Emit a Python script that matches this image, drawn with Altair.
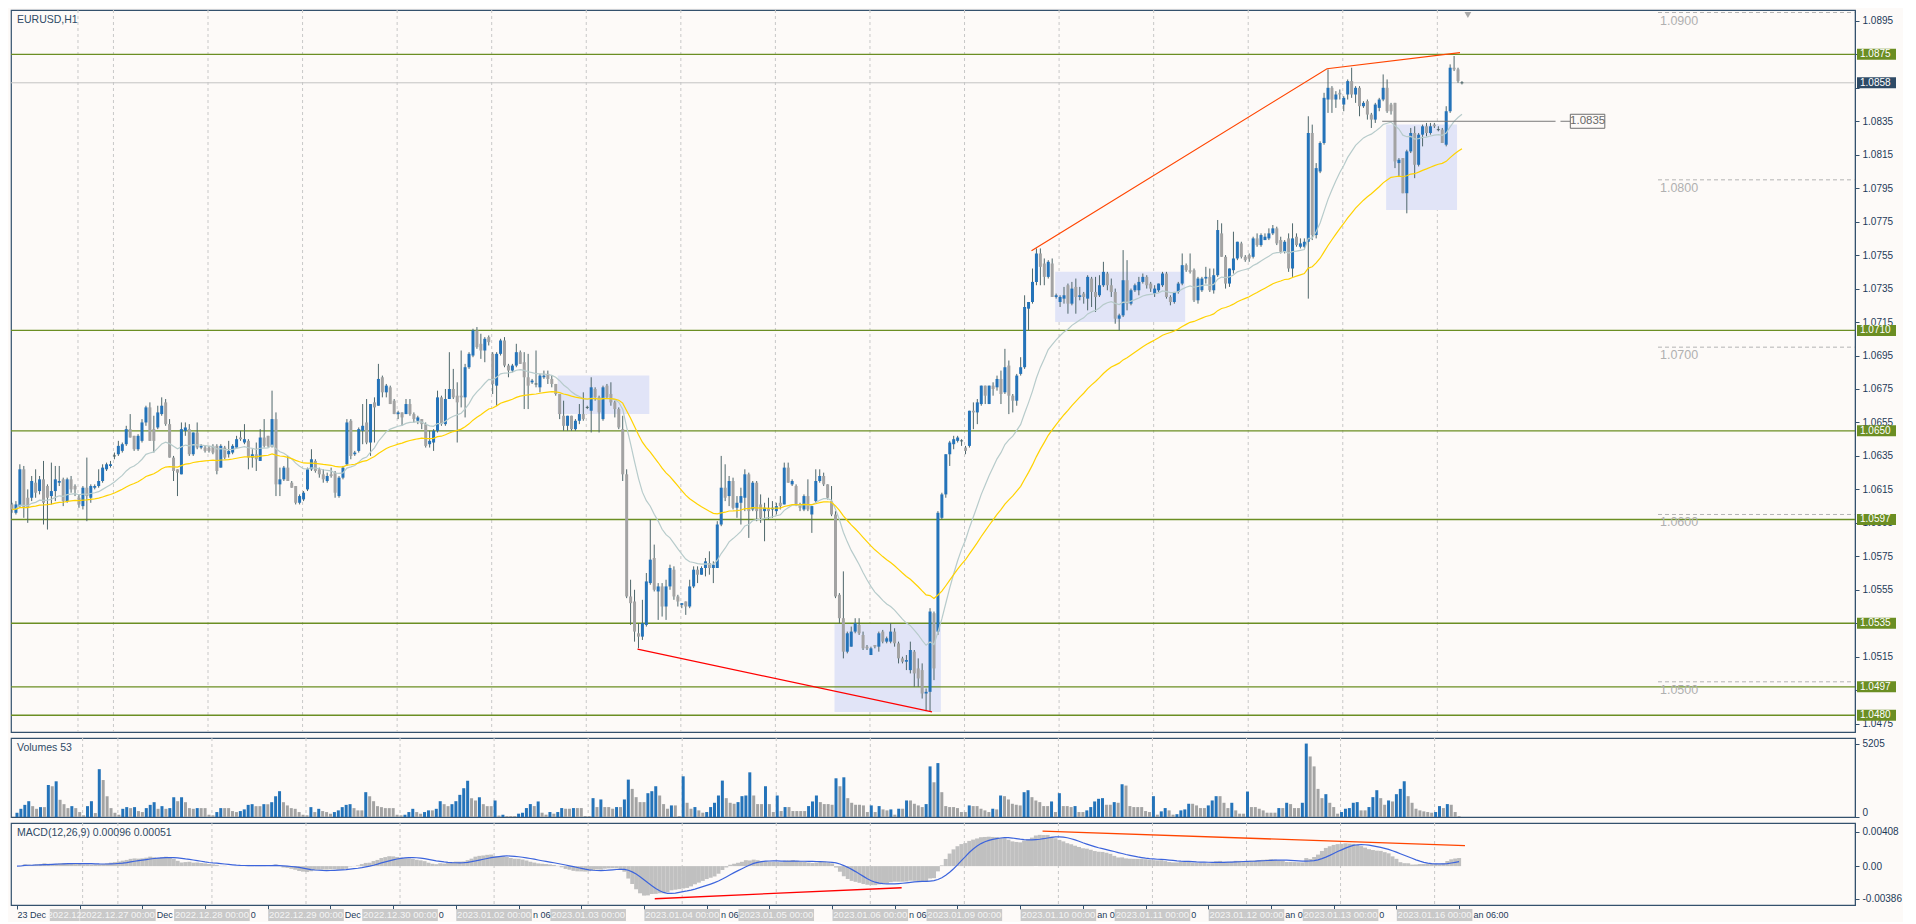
import altair as alt
import pandas as pd

# ---------------- data (price offsets in pips above 1.0000) ----------------
OPEN = [606,601,605,627,610,610,619,614,621,617, 611,614,619,621,608,621,617,610,605,616,
        610,616,617,620,627,629,635,636,638,642, 651,647,639,644,655,664,651,652,660,667,
        654,634,627,624,650,651,636,649,640,640, 640,641,641,628,640,636,637,640,646,643,
        644,634,636,632,646,647,641,657,618,621, 628,619,617,607,609,615,627,
        632,627,624,620,624,625,611,622,630,656, 636,638,650,655,643,667,665,682,673,676,
        668,660,661,660,666,660,656,657,654,642, 643,650,670,654,669,675,671,671,670,688,
        695,710,702,698,706,696,677,696,704,689, 686,689,697,691,682,679,678,676,682,684,
        681,678,672,659,653,659,651,656,660,664, 662,675,670,657,677,
        672,667,663,651,624,551,548,529,527,534, 559,574,554,557,545,557,567,551,546,548,
        545,557,567,564,568,571,568,568,594,616, 611,620,604,607,610,624,603,619,606,602,
        604,603,602,607,606,628,618,617,606,603, 611,600,608,620,623,618,608,600,552,538,
        518,521,530,534,528,521,516,522,521,530, 524,524,530,523,514,
        512,507,518,508,507,493,494,541,530,598, 612,636,642,644,644,640,641,662,661,666,
        677,666,677,676,681,673,689,671,668,684, 688,723,727,739,756,750,742,750,730,727,
        729,737,726,736,730,732,729,741,733,731, 737,744,737,733,717,719,740,726,734,734,
        739,742,738,732,734,737,744,730,727,733, 738,749,746,746,728,
        734,741,742,734,743,768,754,738,746,753, 762,754,755,754,765,761,764,765,768,771,
        764,757,765,747,766,760,760,763,828,767, 805,822,848,855,848,852,845,851,859,851,
        855,844,847,839,836,843,848,855,845,846, 810,813,792,817,828,809,827,832,828,833,
        830,830,821,841,867,866,858]
HIGH = [607,608,630,629,615,623,627,623,632,618, 631,629,629,622,622,623,618,612,617,634,
        618,618,627,630,631,632,637,644,643,653, 660,647,648,657,665,667,659,665,670,669,
        657,635,627,655,655,654,649,655,642,641, 641,642,642,642,641,644,642,647,650,654,
        645,639,643,651,657,647,674,661,628,629, 635,620,617,612,614,628,639,
        633,628,627,625,628,626,623,629,657,657, 638,652,666,669,666,670,690,683,678,677,
        669,662,661,669,669,661,659,657,655,650, 651,674,671,675,697,687,679,698,690,697,
        711,712,708,706,707,697,697,705,706,690, 690,702,698,697,696,681,698,684,686,686,
        683,678,672,668,659,659,657,666,673,665, 682,676,671,677,678,
        679,668,664,659,627,561,555,535,549,565, 597,582,559,559,561,570,569,552,547,548,
        561,569,569,569,574,578,572,596,635,630, 623,622,611,616,627,625,620,620,612,607,
        610,608,607,611,631,631,621,618,607,612, 621,605,627,627,625,618,617,602,553,566,
        530,533,538,538,530,522,521,522,530,531, 527,535,532,524,515,
        516,524,519,514,511,496,544,542,602,613, 636,644,647,647,645,641,662,667,669,677,
        677,677,679,683,686,699,692,672,684,694, 731,727,747,759,759,753,752,753,732,731,
        736,738,739,741,736,733,743,742,742,743, 751,745,741,735,720,758,752,735,738,742,
        744,743,739,737,738,745,745,731,733,739, 756,750,756,747,742,
        742,748,747,747,776,774,755,747,769,763, 763,755,756,766,768,768,768,771,773,772,
        766,764,768,774,768,765,765,838,833,810, 823,852,866,856,853,854,850,860,867,856,
        856,847,848,840,846,849,863,860,846,846, 813,813,818,831,832,828,833,834,834,834,
        832,831,844,869,874,867,859]
LOW = [601,600,604,598,595,608,610,612,594,591, 606,608,617,605,607,613,611,604,603,596,
       607,615,616,619,626,628,633,635,637,641, 646,638,638,643,653,644,637,651,659,653,
       634,620,611,624,647,635,635,639,639,637, 637,636,624,628,633,634,636,640,644,642,
       627,628,626,632,640,640,640,611,611,620, 620,616,606,606,608,614,626,
       625,622,619,619,622,610,610,621,629,633, 635,637,642,642,635,643,665,670,670,666,
       660,657,653,660,659,655,654,651,640,640, 638,649,653,653,669,669,643,664,658,687,
       694,699,693,691,701,672,665,695,688,682, 685,688,690,663,663,678,676,673,681,678,
       676,671,657,650,650,650,650,654,656,663, 649,668,649,656,669,
       665,658,651,620,550,534,524,520,525,533, 558,554,537,539,537,555,549,545,544,540,
       544,556,559,564,563,564,559,568,593,608, 605,603,598,594,602,586,602,596,595,584,
       597,598,600,603,606,619,617,605,602,602, 602,589,607,619,617,609,599,550,535,514,
       517,521,529,528,519,519,516,520,518,523, 523,523,521,511,511,
       507,505,497,497,490,483,482,501,528,597, 610,629,639,643,641,636,640,651,654,665,
       666,666,671,674,666,672,660,661,665,683, 687,710,726,737,737,737,741,730,729,724,
       726,720,725,720,728,726,722,724,721,730, 736,734,730,714,710,718,722,725,733,731,
       738,735,733,730,733,736,729,725,726,732, 737,745,744,727,726,
       733,738,733,732,742,754,735,736,744,752, 753,751,751,753,760,760,764,764,767,761,
       756,756,745,742,760,759,759,729,764,765, 804,821,840,840,843,848,841,848,849,846,
       838,843,836,831,834,841,847,840,839,807, 802,792,780,816,801,808,820,826,827,831,
       829,822,820,840,865,858,857]
CLOSE = [603,606,627,604,604,620,613,621,607,610, 614,621,620,608,621,615,615,606,616,611,
         617,617,620,628,630,630,635,641,642,651, 646,639,647,655,664,644,644,661,665,654,
         634,626,625,651,652,636,649,640,641,638, 638,637,626,641,634,638,641,645,645,645,
         634,636,633,646,641,641,657,618,621,628, 620,616,607,611,613,627,633,
         626,624,621,623,623,613,622,628,655,635, 637,651,653,643,666,664,681,673,677,666,
         660,661,658,666,660,657,658,654,641,644, 650,670,654,669,675,670,667,670,688,696,
         710,700,698,705,703,678,696,704,689,686, 689,697,690,682,677,680,678,683,683,681,
         678,672,660,653,659,651,656,660,657,664, 676,670,661,676,670,
         667,663,652,624,551,547,530,527,535,560, 573,555,557,545,557,568,551,548,547,545,
         557,567,564,568,572,568,570,594,616,610, 620,604,607,611,624,602,619,602,598,604,
         602,604,605,605,628,619,620,606,604,611, 603,605,620,623,618,610,600,551,538,518,
         529,530,535,529,520,520,520,521,529,524, 526,530,523,514,512,
         513,519,505,502,493,494,542,508,601,612, 636,643,645,646,644,638,662,661,667,677,
         671,677,675,681,672,688,671,668,683,688, 724,727,739,756,748,742,751,730,731,730,
         731,726,735,730,731,730,742,733,730,737, 745,737,733,717,719,740,726,734,737,739,
         742,737,735,735,738,744,730,727,733,738, 749,746,745,728,741,
         741,742,734,743,770,754,738,747,753,763, 754,752,753,765,761,767,766,768,771,762,
         757,763,747,765,761,762,763,828,767,807, 822,849,855,848,851,851,849,859,851,855,
         844,846,839,836,845,848,855,841,841,811, 812,792,817,828,809,827,832,828,832,832,
         830,822,841,867,866,859,858]
VOLUME = [300,580,860,1120,770,580,700,700,2270,2180, 2530,1220,910,630,770,630,350,120,770,1120,
          280,3390,2620,1470,630,300,160,580,700,630, 700,420,350,630,860,1050,580,770,580,630,
          1400,1120,1400,1050,630,580,630,630,630,160, 120,350,630,630,630,420,350,420,540,860,
          910,770,770,910,910,1050,1470,1830,1050,820, 630,580,350,160,120,700,350,580,420,350,
          230,350,470,700,860,910,630,470,470,1760, 1470,1120,770,700,630,630,630,160,120,160,
          350,580,350,230,350,470,470,580,1120,910, 770,910,1120,1570,2040,2570,1330,1170,1400,910,
          770,770,1170,100,160,
          70,70,70,235,305,633,915,774,1102,305, 164,352,235,352,633,586,586,633,633,633,
          70,70,1337,704,1243,704,704,586,704,704, 1243,2650,1993,1407,1055,1055,1688,1829,2181,1524,
          915,586,821,821,70,2884,1008,586,704,469, 305,352,704,1008,1524,2580,1337,1008,938,1055,
          1477,1524,3166,1524,915,915,2181,915,352,1524, 422,704,704,422,422,422,422,774,1102,1524,
          1055,915,915,868,2744,2181,2814,1337,1008,868, 868,821,352,821,352,774,539,469,539,164,
          586,586,1173,1173,938,821,704,915,3588,2462, 3822,1759,774,704,704,633,352,352,821,774,
          774,586,469,352,586,
          539,1524,1477,1243,938,868,821,1759,1899,1407, 1173,1055,774,774,1102,352,1688,774,774,704,
          774,352,352,469,704,1102,1290,1337,868,868, 1055,1008,2322,2228,774,704,704,704,422,352,
          1477,164,399,633,469,164,200,469,539,938, 938,821,633,633,821,1173,1477,1477,1008,633,
          1008,469,235,235,1806,704,704,586,469,305, 305,305,633,633,1008,915,633,633,1008,5205,
          4291,3588,1993,1337,1618,1008,704,235,352,586, 633,1008,1055,469,469,704,1407,1899,1337,868,
          1173,1102,1618,1993,2533,1477,1008,586,469,399, 352,305,352,774,633,915,868,352,70]

LEVELS = [1.0875, 1.0710, 1.0650, 1.0597, 1.0535, 1.0497, 1.0480]
LEVEL_LABELS = ["1.0875", "1.0710", "1.0650", "1.0597", "1.0535", "1.0497", "1.0480"]
CURRENT_PRICE = 1.0858
CURRENT_LABEL = "1.0858"
ROUND_LEVELS = [1.0900, 1.0800, 1.0700, 1.0600, 1.0500]
ROUND_LABELS = ["1.0900", "1.0800", "1.0700", "1.0600", "1.0500"]
PRICE_TICKS = [1.0475, 1.0495, 1.0515, 1.0535, 1.0555, 1.0575, 1.0595, 1.0615, 1.0635, 1.0655, 1.0675,
               1.0695, 1.0715, 1.0735, 1.0755, 1.0775, 1.0795, 1.0815, 1.0835, 1.0855, 1.0875, 1.0895]
# tick labels that sit behind a price box on the axis
HIDDEN_TICK_LABELS = ["1.0495", "1.0535", "1.0855", "1.0875"]
MARK_PRICE = 1.0835
MARK_LABEL = "1.0835"

RECT_X0 = [138.5, 208.75, 264.75, 348.75]
RECT_X1 = [161.75, 235.75, 297.75, 366.75]
RECT_LO = [1.0660, 1.0482, 1.0715, 1.0782]
RECT_HI = [1.0683, 1.0535, 1.0745, 1.0833]

TREND_DN_X = [158.75, 233.5]
TREND_DN_Y = [1.05195, 1.0482]
TREND_UP_X = [258.75, 333.75, 367.5]
TREND_UP_Y = [1.07576, 1.08664, 1.0876]
MACD_DN_X = [162.75, 225.75]
MACD_DN_Y = [-0.00386, -0.00256]
MACD_UP_X = [261.7, 369.5]
MACD_UP_Y = [0.00415, 0.00242]

DAY_START = [17, 26, 50, 74, 98, 122, 146, 170, 194, 218, 242, 266, 290, 314, 338, 362]
DAY_LABELS = ["2022.12.26 00:00", "2022.12.27 00:00", "2022.12.28 00:00", "2022.12.29 00:00",
              "2022.12.30 00:00", "2023.01.02 00:00", "2023.01.03 00:00", "2023.01.04 00:00",
              "2023.01.05 00:00", "2023.01.06 00:00", "2023.01.09 00:00", "2023.01.10 00:00",
              "2023.01.11 00:00", "2023.01.12 00:00", "2023.01.13 00:00", "2023.01.16 00:00"]
TICK_POS = [0, 16, 32, 48, 64, 80, 96, 112, 128, 144, 160, 176, 192, 208, 224, 240, 256, 272,
            288, 304, 320, 336, 352, 368]
# parts of the time-axis labels that stay visible between the separator boxes
FIRST_TICK_TEXT = "23 Dec"
FRAG_AFTER = [1, 2, 3, 4, 5, 7, 9, 11, 12, 13, 14, 15]
FRAG_TEXT = ["Dec", "0", "Dec", "0", "n 06", "n 06", "n 06", "an 0", "0", "an 0", "0", "an 06:00"]

# ---------------- layout & style ----------------
W, H1, H2, H3 = 1844, 722, 79, 82
XDOM = [-0.25, 467.75]
PX = W / (XDOM[1] - XDOM[0])
YDOM = [1.0470, 1.09015]
PPX = (YDOM[1] - YDOM[0]) / H1
VDOM = [0, 5600]
MDOM = [-0.0046, 0.0051]

BG = "#fdfaf8"
NAVY = "#34516d"
AXTXT = "#1e3a58"
GREEN = "#6b8e23"
BULL = "#2473b9"
BEAR = "#a3a3a3"
WICK = "#4f676b"
GRID = "#c8c8c8"
FONT = "Liberation Sans"

xs = alt.Scale(domain=XDOM, nice=False, zero=False)
ys = alt.Scale(domain=YDOM, nice=False, zero=False)
vs = alt.Scale(domain=VDOM, nice=False)
ms = alt.Scale(domain=MDOM, nice=False, zero=False)

hidden_js = "[" + ",".join("'" + t + "'" for t in HIDDEN_TICK_LABELS) + "]"
# the same axis object is given to every layer of a panel so that layers merge cleanly
YAX = alt.Axis(orient="right", values=PRICE_TICKS, grid=False, title=None,
               labelExpr="indexof(" + hidden_js + ", format(datum.value, '.4f')) >= 0 ? '' : format(datum.value, '.4f')",
               tickSize=4, tickColor=NAVY, domainColor=NAVY, labelColor=AXTXT,
               labelFont=FONT, labelFontSize=10, labelPadding=3, labelOverlap=False)
XAX = alt.Axis(values=TICK_POS, labels=False, grid=False, title=None, orient="bottom",
               tickSize=4, tickColor=NAVY, domainColor=NAVY)
MAX = alt.Axis(orient="right", values=[-0.00386, 0, 0.00408], grid=False, title=None,
               labelExpr="datum.value > 0.001 ? '0.00408' : (datum.value < -0.001 ? '-0.00386' : '0.00')",
               tickSize=4, tickColor=NAVY, domainColor=NAVY, labelColor=AXTXT,
               labelFont=FONT, labelFontSize=10, labelPadding=3, labelOverlap=False)
VAX = alt.Axis(orient="right", values=[0, 5205], format="d", grid=False, title=None,
               tickSize=4, tickColor=NAVY, domainColor=NAVY, labelColor=AXTXT,
               labelFont=FONT, labelFontSize=10, labelPadding=3, labelFlush=True)

n = min(len(OPEN), len(HIGH), len(LOW), len(CLOSE), len(VOLUME))
df = pd.DataFrame({
    "i": list(range(n)),
    "o": [1 + v / 10000 for v in OPEN[:n]],
    "h": [1 + v / 10000 for v in HIGH[:n]],
    "l": [1 + v / 10000 for v in LOW[:n]],
    "c": [1 + v / 10000 for v in CLOSE[:n]],
    "vol": VOLUME[:n],
})
df["col"] = [BULL if c > o else BEAR for o, c in zip(df.o, df.c)]
df["xl"] = df.i - 1.5 / PX
df["xr"] = df.i + 1.5 / PX
df["vcol"] = [BULL if k == 0 or df.vol[k] > df.vol[k - 1] else BEAR for k in range(n)]
cs = df.c
df["ema50"] = cs.ewm(span=50, adjust=False).mean()
df["ema20"] = cs.ewm(span=20, adjust=False).mean()
macd = cs.ewm(span=12, adjust=False).mean() - cs.ewm(span=26, adjust=False).mean()
df["macd"] = macd
df["sig"] = macd.rolling(9, min_periods=1).mean()

grid_df = pd.DataFrame({"d": [d - 0.25 for d in DAY_START]})


def vgrid(xax):
    return alt.Chart(grid_df).mark_rule(color=GRID, strokeDash=[3, 3], strokeWidth=1).encode(
        x=alt.X("d:Q", scale=xs, axis=xax))


def title(txt):
    return alt.Chart(pd.DataFrame({"t": [txt]})).mark_text(
        align="left", baseline="middle", fontSize=10.5, font=FONT, color="#2f4a66").encode(
        x=alt.value(6), y=alt.value(10), text="t:N")


def PX_(f):
    return alt.X(f, scale=xs, axis=None)


def PY(f):
    return alt.Y(f, scale=ys, axis=YAX)


# ---------------- main panel ----------------
rect_df = pd.DataFrame({"x0": RECT_X0, "x1": RECT_X1, "lo": RECT_LO, "hi": RECT_HI})
rects = alt.Chart(rect_df).mark_rect(color="#e1e4f7").encode(
    x=PX_("x0:Q"), x2="x1:Q", y=PY("lo:Q"), y2="hi:Q")

lev_df = pd.DataFrame({"p": LEVELS, "t": LEVEL_LABELS})
lev_lines = alt.Chart(lev_df).mark_rule(color=GREEN, strokeWidth=1.3).encode(y=PY("p:Q"))

cur_df = pd.DataFrame({"p": [CURRENT_PRICE], "t": [CURRENT_LABEL]})
cur_line = alt.Chart(cur_df).mark_rule(color="#c4c4c4", strokeWidth=1).encode(y=PY("p:Q"))

round_df = pd.DataFrame({"p": ROUND_LEVELS, "t": ROUND_LABELS})
round_df["x0"] = 417.75
round_df["x1"] = XDOM[1]
round_df["xt"] = 418.25
round_lines = alt.Chart(round_df).mark_rule(color="#b4b4b4", strokeDash=[4, 3]).encode(
    x=PX_("x0:Q"), x2="x1:Q", y=PY("p:Q"))
round_text = alt.Chart(round_df).mark_text(
    align="left", baseline="top", dy=2, fontSize=12.5, font=FONT, color="#b0b0b0").encode(
    x=PX_("xt:Q"), y=PY("p:Q"), text="t:N")

wicks = alt.Chart(df).mark_rule(color=WICK, strokeWidth=1).encode(
    x=PX_("i:Q"), y=PY("l:Q"), y2="h:Q")
bodies = alt.Chart(df).mark_rect().encode(
    x=PX_("xl:Q"), x2="xr:Q", y=PY("o:Q"), y2="c:Q", color=alt.Color("col:N", scale=None))
doji = alt.Chart(df[df.o == df.c]).mark_rule(color=WICK, strokeWidth=1).encode(
    x=PX_("xl:Q"), x2="xr:Q", y=PY("c:Q"))

ema50 = alt.Chart(df).mark_line(color="#ffd200", strokeWidth=1.2).encode(x=PX_("i:Q"), y=PY("ema50:Q"))
ema20 = alt.Chart(df).mark_line(color="#b7cbcb", strokeWidth=1.2).encode(x=PX_("i:Q"), y=PY("ema20:Q"))

tdn = alt.Chart(pd.DataFrame({"x": TREND_DN_X, "y": TREND_DN_Y})).mark_line(
    color="#ff0000", strokeWidth=1.2).encode(x=PX_("x:Q"), y=PY("y:Q"))
tup = alt.Chart(pd.DataFrame({"x": TREND_UP_X, "y": TREND_UP_Y})).mark_line(
    color="#ff4500", strokeWidth=1.2).encode(x=PX_("x:Q"), y=PY("y:Q"))

mk_df = pd.DataFrame({"p": [MARK_PRICE], "t": [MARK_LABEL]})
mk_df["a0"] = 347.75
mk_df["a1"] = 391.75
mk_df["b0"] = 393.0
mk_df["b1"] = 395.5
mk_df["r0"] = 395.5
mk_df["r1"] = 404.25
mk_df["xc"] = 399.9
mk_df["lo"] = MARK_PRICE - 7 * PPX
mk_df["hi"] = MARK_PRICE + 7 * PPX
mk_line1 = alt.Chart(mk_df).mark_rule(color="#7a7a7a").encode(x=PX_("a0:Q"), x2="a1:Q", y=PY("p:Q"))
mk_line2 = alt.Chart(mk_df).mark_rule(color="#7a7a7a").encode(x=PX_("b0:Q"), x2="b1:Q", y=PY("p:Q"))
mk_box = alt.Chart(mk_df).mark_rect(fill=BG, stroke="#6e6e6e", strokeWidth=1).encode(
    x=PX_("r0:Q"), x2="r1:Q", y=PY("lo:Q"), y2="hi:Q")
mk_text = alt.Chart(mk_df).mark_text(fontSize=11.5, font=FONT, color="#6a6a6a", baseline="middle").encode(
    x=PX_("xc:Q"), y=PY("p:Q"), text="t:N")

tri = alt.Chart(pd.DataFrame({"x": [369.5], "y": [1.08985]})).mark_point(
    shape="triangle-down", filled=True, color="#a8a8a8", size=45, opacity=1).encode(
    x=PX_("x:Q"), y=PY("y:Q"))

lab_df = pd.concat([lev_df.assign(col=GREEN), cur_df.assign(col="#2e4a66")], ignore_index=True)
lab_df["lo"] = lab_df.p - 5.5 * PPX
lab_df["hi"] = lab_df.p + 5.5 * PPX
lab_box = alt.Chart(lab_df).mark_rect().encode(
    x=alt.value(W + 2), x2=alt.value(W + 41),
    y=PY("lo:Q"), y2="hi:Q", color=alt.Color("col:N", scale=None))
lab_txt = alt.Chart(lab_df).mark_text(align="left", baseline="middle", fontSize=10, font=FONT,
                                      color="#ffffff").encode(
    x=alt.value(W + 5), y=PY("p:Q"), text="t:N")

main = alt.layer(
    vgrid(None), rects, lev_lines, cur_line, round_lines, round_text,
    wicks, bodies, doji, ema20, ema50, tdn, tup,
    mk_line1, mk_line2, mk_box, mk_text, tri, lab_box, lab_txt, title("EURUSD,H1")
).properties(width=W, height=H1)

# ---------------- volume panel ----------------
vbars = alt.Chart(df).mark_bar(size=3).encode(
    x=PX_("i:Q"), y=alt.Y("vol:Q", scale=vs, axis=VAX),
    color=alt.Color("vcol:N", scale=None))
vol = alt.layer(vgrid(None), vbars, title("Volumes 53")).properties(width=W, height=H2)

# ---------------- MACD panel ----------------
def MX(f):
    return alt.X(f, scale=xs, axis=XAX)


def MY(f):
    return alt.Y(f, scale=ms, axis=MAX)


hist = alt.Chart(df).mark_bar(size=4, color="#c0c0c0", clip=True).encode(
    x=MX("i:Q"), y=MY("macd:Q"), y2=alt.datum(0))
sig = alt.Chart(df).mark_line(color="#3c64dc", strokeWidth=1.2, clip=True).encode(
    x=MX("i:Q"), y=MY("sig:Q"))
mdn = alt.Chart(pd.DataFrame({"x": MACD_DN_X, "y": MACD_DN_Y})).mark_line(
    color="#ff0000", strokeWidth=1.3).encode(x=MX("x:Q"), y=MY("y:Q"))
mup = alt.Chart(pd.DataFrame({"x": MACD_UP_X, "y": MACD_UP_Y})).mark_line(
    color="#ff4500", strokeWidth=1.3).encode(x=MX("x:Q"), y=MY("y:Q"))

day_df = pd.DataFrame({"d": [d - 0.25 for d in DAY_START], "t": DAY_LABELS})
day_df["xl"] = day_df.d - 38 / PX
day_df["xr"] = day_df.d + 38 / PX
day_df["xt"] = day_df.d
# the first separator is mostly hidden behind the next one: only its visible start is drawn
day_df.loc[0, "xl"] = day_df.loc[0, "d"] - 33 / PX
day_df.loc[0, "xr"] = day_df.loc[1, "xl"] - 0.5 / PX
day_df.loc[0, "t"] = DAY_LABELS[0][:7]
day_df.loc[0, "xt"] = (day_df.loc[0, "xl"] + day_df.loc[0, "xr"]) / 2

day_box = alt.Chart(day_df).mark_rect(color="#c9c9c9").encode(
    x=MX("xl:Q"), x2="xr:Q", y=alt.value(H3 + 4), y2=alt.value(H3 + 16))
day_txt = alt.Chart(day_df).mark_text(
    fontSize=9.5, font=FONT, color="#f4f4f4", baseline="middle").encode(
    x=MX("xt:Q"), y=alt.value(H3 + 10), text="t:N")

frag_df = pd.DataFrame({
    "x": [XDOM[0] + 1.5 / PX] + [day_df.loc[k, "xr"] + 1.0 / PX for k in FRAG_AFTER],
    "t": [FIRST_TICK_TEXT] + FRAG_TEXT,
})
frag_txt = alt.Chart(frag_df).mark_text(
    fontSize=9, font=FONT, color=AXTXT, align="left", baseline="middle").encode(
    x=MX("x:Q"), y=alt.value(H3 + 10), text="t:N")

macd_panel = alt.layer(
    vgrid(XAX), hist, sig, mdn, mup, day_box, day_txt, frag_txt,
    title("MACD(12,26,9) 0.00096 0.00051")
).properties(width=W, height=H3)

chart = alt.vconcat(main, vol, macd_panel, spacing=2).properties(
    background=BG, padding=0
).configure_view(stroke=NAVY, strokeWidth=1.2)

chart.save("out.html", embed_options={"renderer": "svg", "actions": False})
